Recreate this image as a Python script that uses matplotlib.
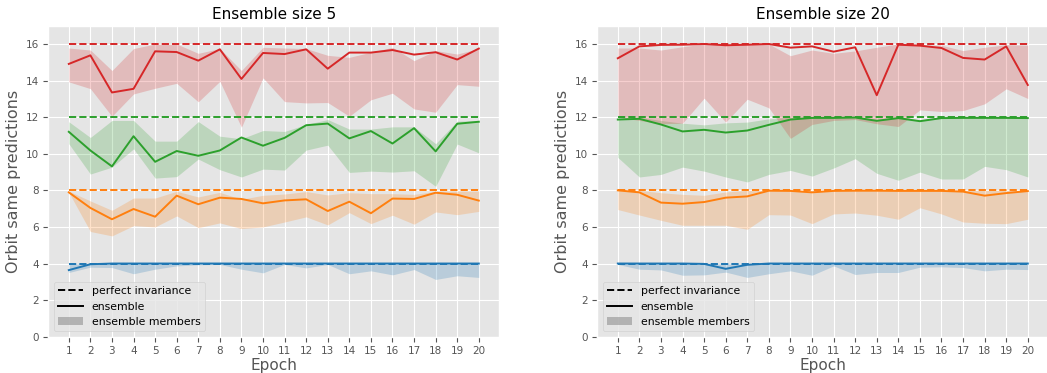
import matplotlib
matplotlib.use("Agg")
import matplotlib.pyplot as plt
import numpy as np
from matplotlib.lines import Line2D
from matplotlib.patches import Patch

plt.style.use("ggplot")

epochs = list(range(1, 21))
orbit_sizes = [4, 8, 12, 16]
colors = ["#1f77b4", "#ff7f0e", "#2ca02c", "#d62728"]

# ---- Ensemble size 5 ----
e5_ens = {
    4: [3.64, 3.96, 4, 4, 4, 4, 4, 4, 4, 4, 4, 4, 4, 4, 4, 4, 4, 4, 4, 4],
    8: [7.89, 7.04, 6.42, 6.98, 6.56, 7.71, 7.24, 7.60, 7.53, 7.29, 7.45, 7.51, 6.87, 7.38, 6.75, 7.55, 7.53, 7.87, 7.76, 7.44],
    12: [11.20, 10.18, 9.31, 10.96, 9.56, 10.15, 9.89, 10.18, 10.89, 10.44, 10.87, 11.56, 11.65, 10.84, 11.24, 10.56, 11.40, 10.13, 11.64, 11.75],
    16: [14.91, 15.38, 13.35, 13.55, 15.60, 15.56, 15.09, 15.71, 14.09, 15.51, 15.45, 15.71, 14.65, 15.53, 15.53, 15.67, 15.42, 15.55, 15.15, 15.75],
}
e5_low = {
    4: [3.51, 3.80, 3.78, 3.44, 3.69, 3.87, 3.93, 3.95, 3.69, 3.49, 3.95, 3.76, 3.95, 3.44, 3.60, 3.38, 3.67, 3.13, 3.33, 3.24],
    8: [7.89, 5.75, 5.51, 6.07, 6.00, 6.60, 5.96, 6.22, 5.91, 6.00, 6.27, 6.55, 6.11, 6.78, 6.18, 6.64, 6.15, 6.82, 6.67, 6.85],
    12: [10.55, 8.89, 9.27, 10.27, 8.67, 8.75, 9.71, 9.13, 8.73, 9.16, 9.11, 10.20, 10.47, 8.98, 9.05, 9.00, 9.07, 8.22, 10.53, 10.05],
    16: [13.93, 13.56, 12.05, 13.27, 13.58, 13.85, 12.84, 13.96, 11.45, 14.15, 12.85, 12.78, 12.80, 12.05, 12.95, 13.31, 12.45, 12.27, 13.78, 13.69],
}
e5_high = {
    4: [4] * 20,
    8: [7.96, 7.42, 6.91, 7.58, 7.58, 7.95, 7.64, 7.89, 7.51, 7.73, 7.80, 7.93, 7.75, 7.87, 7.82, 7.82, 7.78, 7.95, 7.95, 7.95],
    12: [11.75, 10.89, 11.82, 11.82, 10.69, 10.69, 11.76, 10.96, 10.82, 11.27, 11.22, 11.60, 11.87, 11.35, 11.35, 11.47, 11.47, 10.55, 11.78, 11.82],
    16: [15.78, 15.67, 14.55, 15.75, 16.00, 16.00, 15.49, 15.75, 14.55, 15.82, 15.78, 15.75, 15.38, 15.27, 15.55, 15.82, 15.09, 15.64, 15.45, 15.75],
}

# ---- Ensemble size 20 ----
e20_ens = {
    4: [4, 4, 4, 4, 3.98, 3.71, 3.93, 4, 4, 4, 4, 4, 4, 4, 4, 4, 4, 4, 4, 4],
    8: [8.00, 7.89, 7.33, 7.27, 7.36, 7.60, 7.67, 7.98, 7.97, 7.89, 7.97, 7.98, 7.98, 7.97, 7.97, 7.97, 7.93, 7.71, 7.85, 7.96],
    12: [11.87, 11.91, 11.60, 11.22, 11.31, 11.16, 11.27, 11.58, 11.87, 11.96, 11.96, 11.98, 11.80, 11.95, 11.78, 11.95, 11.96, 11.96, 11.96, 11.95],
    16: [15.22, 15.87, 15.95, 15.96, 16.00, 15.93, 15.96, 16.00, 15.80, 15.87, 15.58, 15.82, 13.20, 15.96, 15.91, 15.78, 15.24, 15.15, 15.87, 13.76],
}
e20_low = {
    4: [3.95, 3.69, 3.65, 3.36, 3.38, 3.53, 3.24, 3.44, 3.60, 3.36, 3.87, 3.40, 3.51, 3.51, 3.80, 3.82, 3.78, 3.60, 3.69, 3.67],
    8: [6.95, 6.65, 6.36, 6.09, 6.09, 6.09, 5.87, 6.67, 6.65, 6.18, 6.71, 6.76, 6.64, 6.42, 7.05, 6.71, 6.27, 6.20, 6.18, 6.42],
    12: [9.80, 8.73, 8.87, 9.27, 9.05, 8.73, 8.46, 8.87, 9.09, 8.78, 9.22, 9.73, 8.93, 8.55, 9.00, 8.62, 8.62, 9.31, 9.13, 8.73],
    16: [12.00, 11.82, 11.64, 11.67, 13.04, 11.73, 12.98, 12.51, 10.84, 11.60, 11.82, 11.87, 11.64, 11.49, 12.40, 12.31, 12.36, 12.73, 13.55, 13.02],
}
e20_high = {
    4: [4] * 20,
    8: [8.00, 8.00, 7.87, 7.78, 7.73, 7.91, 8.00, 8.00, 8.00, 8.00, 8.00, 8.00, 8.00, 8.00, 8.00, 8.00, 8.00, 8.00, 8.00, 8.00],
    12: [11.96, 12.00, 11.82, 11.67, 11.58, 11.69, 11.73, 11.91, 12.00, 12.00, 12.00, 12.00, 11.89, 12.00, 11.85, 12.00, 12.00, 12.00, 12.00, 12.00],
    16: [15.78, 15.78, 15.67, 15.85, 16.00, 15.96, 16.00, 16.00, 15.36, 15.67, 15.49, 15.62, 15.82, 16.00, 15.93, 15.93, 15.64, 15.82, 15.96, 15.93],
}

panels = [
    ("Ensemble size 5", e5_ens, e5_low, e5_high),
    ("Ensemble size 20", e20_ens, e20_low, e20_high),
]

W, H = 1047, 373
fig = plt.figure(figsize=(W / 100, H / 100), dpi=100)
ax_lefts = [48.3, 597.3]
ax_w = 451
ax_bottom = 373 - 336.7
ax_h = 336.7 - 25.7

for (title, ens, low, high), left in zip(panels, ax_lefts):
    ax = fig.add_axes([left / W, ax_bottom / H, ax_w / W, ax_h / H])
    for size, c in zip(orbit_sizes, colors):
        ax.fill_between(epochs, low[size], high[size], color=c, alpha=0.22, linewidth=0)
        ax.plot(epochs, ens[size], color=c, lw=1.4)
        ax.plot(epochs, [size] * len(epochs), color=c, lw=1.4, ls="--")
    ax.set_ylim(0, 17)
    ax.set_xlim(0.05, 20.95)
    ax.set_xticks(epochs)
    ax.set_yticks([0, 2, 4, 6, 8, 10, 12, 14, 16])
    ax.tick_params(labelsize=7.5)
    ax.set_xlabel("Epoch", fontsize=11, labelpad=1)
    ax.set_ylabel("Orbit same predictions", fontsize=11.5, labelpad=3)
    ax.set_title(title, fontsize=11, color="black", pad=5)
    handles = [
        Line2D([], [], color="black", ls="--", lw=1.4),
        Line2D([], [], color="black", lw=1.4),
        Patch(facecolor="gray", alpha=0.5, edgecolor="none"),
    ]
    ax.legend(handles, ["perfect invariance", "ensemble", "ensemble members"],
              loc="lower left", fontsize=7.8, framealpha=0.8, handlelength=2.3)

fig.savefig("out.png", dpi=100)
